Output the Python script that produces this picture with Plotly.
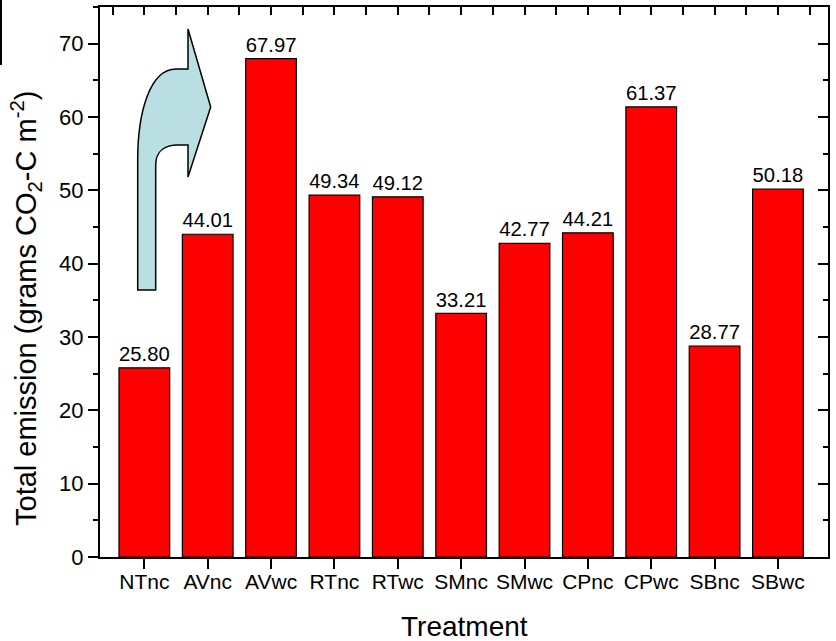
import plotly.graph_objects as go

categories = ["NTnc", "AVnc", "AVwc", "RTnc", "RTwc", "SMnc", "SMwc", "CPnc", "CPwc", "SBnc", "SBwc"]
values = [25.80, 44.01, 67.97, 49.34, 49.12, 33.21, 42.77, 44.21, 61.37, 28.77, 50.18]
labels = [f"{v:.2f}" for v in values]

FONT = "Liberation Sans"
W, H = 836, 641
L, R, T, B = 100, 8, 7, 84
PW, PH = W - L - R, H - T - B

def pp(x, y):
    return (x - L) / PW, (H - B - y) / PH

def path_from(points_cmds):
    s = ""
    for cmd, pts in points_cmds:
        s += cmd
        s += " ".join(f"{pp(x, y)[0]:.5f},{pp(x, y)[1]:.5f}" for x, y in pts) + " "
    return s + "Z"

arrow = path_from([
    ("M", [(137.7, 290)]),
    ("L", [(155.7, 290)]),
    ("L", [(155.7, 165)]),
    ("C", [(155.7, 151), (165, 145), (178, 145)]),
    ("L", [(188, 145)]),
    ("L", [(188, 177)]),
    ("L", [(210.7, 107)]),
    ("L", [(188, 29)]),
    ("L", [(188, 69)]),
    ("L", [(176, 69)]),
    ("C", [(150, 69), (137.7, 112), (137.7, 160)]),
])

fig = go.Figure()
fig.add_trace(go.Bar(
    x=categories, y=values, text=labels, textposition="outside",
    textfont=dict(size=21, color="black", family=FONT),
    marker=dict(color="#ff0000", line=dict(color="black", width=1.2)),
    width=0.8, cliponaxis=False, showlegend=False,
))
fig.add_trace(go.Scatter(
    x=list(range(len(categories))), y=values, xaxis="x2", yaxis="y2",
    mode="markers", marker=dict(opacity=0), showlegend=False, hoverinfo="skip",
))

axis_common = dict(showline=True, linecolor="black", linewidth=2, showgrid=False,
                   zeroline=False, tickcolor="black", tickwidth=2)

fig.update_layout(
    width=W, height=H,
    margin=dict(l=L, r=R, t=T, b=B),
    plot_bgcolor="white", paper_bgcolor="white",
    font=dict(family=FONT, color="black"),
    bargap=0.2,
    xaxis=dict(**axis_common, range=[-0.7, 10.79], ticks="outside", ticklen=10,
               ticklabelstandoff=-5,
               tickfont=dict(size=21, family=FONT)),
    xaxis2=dict(**axis_common, overlaying="x", side="top", range=[-0.7, 10.79],
                tick0=0, dtick=0.5, ticks="inside", ticklen=8, showticklabels=False,
                anchor="y2"),
    yaxis=dict(**axis_common, range=[0, 75], dtick=10, ticks="outside", ticklen=10,
               tickfont=dict(size=22, family=FONT),
               minor=dict(dtick=5, ticks="outside", ticklen=5, tickcolor="black", tickwidth=2)),
    yaxis2=dict(**axis_common, overlaying="y", side="right", range=[0, 75], dtick=10,
                ticks="inside", ticklen=10, showticklabels=False, anchor="x2",
                minor=dict(dtick=5, ticks="inside", ticklen=5, tickcolor="black", tickwidth=2)),
    shapes=[
        dict(type="path", xref="paper", yref="paper", path=arrow,
             fillcolor="#b9dfe2", line=dict(color="black", width=1.5), layer="above"),
        dict(type="line", xref="paper", yref="paper",
             x0=pp(1, 0)[0], x1=pp(1, 0)[0], y0=pp(1, 0)[1], y1=pp(1, 65)[1],
             line=dict(color="black", width=2)),
    ],
    annotations=[
        dict(text="Total emission (grams CO<sub>2</sub>-C m<sup>-2</sup>)",
             xref="paper", yref="paper", x=pp(26, 0)[0], y=pp(0, 309)[1],
             textangle=-90, showarrow=False, xanchor="center", yanchor="middle",
             font=dict(size=29, family=FONT)),
        dict(text="Treatment", xref="paper", yref="paper",
             x=pp(464, 0)[0], y=pp(0, 626)[1], showarrow=False,
             xanchor="center", yanchor="middle", font=dict(size=28, family=FONT)),
    ],
)

fig.write_html("out.html")
